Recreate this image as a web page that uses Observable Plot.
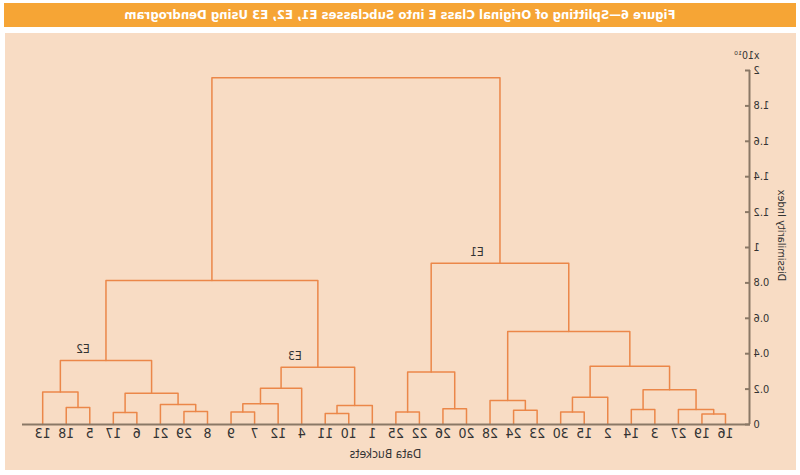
<!DOCTYPE html>
<html>
<head>
<meta charset="utf-8">
<script src="https://cdn.jsdelivr.net/npm/d3@7"></script>
<script src="https://cdn.jsdelivr.net/npm/@observablehq/plot@0.6"></script>
<style>
  html, body { margin: 0; padding: 0; background: #ffffff; }
  #wrap { position: relative; width: 800px; height: 475px; transform: scaleX(-1); overflow: hidden;
          font-family: "Liberation Sans Narrow", "DejaVu Sans Condensed", "Roboto", sans-serif; }
  #title { position: absolute; left: 4px; top: 3px; width: 792px; height: 24px; background: #f6a535;
           color: #ffffff; font-weight: bold; font-size: 13px; line-height: 24px; text-align: center; }
  #panel { position: absolute; left: 4px; top: 33px; width: 791px; height: 437px; background: #f8dcc4; }
  #chart { position: absolute; left: 0; top: 0; }
  #chart svg { background: transparent !important; }
</style>
</head>
<body>
<div id="wrap">
  <div id="title">Figure 6—Splitting of Original Class E into Subclasses E1, E2, E3 Using Dendrogram</div>
  <div id="panel"></div>
  <div id="chart"></div>
</div>
<script>
// Leaf order (left to right)
const leaves = ["16","19","27","3","14","2","15","30","23","24","28","20","26","22","25",
                "1","10","11","4","12","7","9","8","29","21","6","17","5","18","13"];
// Linkage: [left child, right child, dissimilarity (x10^10)]; merge i is referred to as "m" + i
const merges = [
  ["16","19",0.060], ["m0","27",0.085], ["3","14",0.085], ["m1","m2",0.196],
  ["15","30",0.070], ["2","m4",0.154], ["m3","m5",0.329], ["23","24",0.081],
  ["m7","28",0.136], ["m6","m8",0.525], ["20","26",0.089], ["22","25",0.070],
  ["m10","m11",0.296], ["m9","m12",0.911], ["10","11",0.062], ["1","m14",0.107],
  ["7","9",0.070], ["12","m16",0.117], ["4","m17",0.205], ["m15","m18",0.324],
  ["8","29",0.073], ["m20","21",0.113], ["6","17",0.068], ["m21","m22",0.177],
  ["5","18",0.096], ["m24","13",0.183], ["m23","m25",0.362], ["m19","m26",0.814],
  ["m13","m27",1.959]
];
const clusterNames = ["E1","E2","E3"];
const clusterNodes = ["m13","m26","m19"];
const yTicks = [0,0.2,0.4,0.6,0.8,1,1.2,1.4,1.6,1.8,2];
const yTickLabels = ["0","0.2","0.4","0.6","0.8","1","1.2","1.4","1.6","1.8","2"];
const xTitle = "Data Buckets";
const yTitle = "Dissimilarity Index";
const yUnit = "x10¹⁰";

// Build dendrogram link paths
const pos = {};
leaves.forEach((l, i) => pos[l] = {x: i, h: 0});
const segs = [];
merges.forEach(([a, b, h], i) => {
  const A = pos[a], B = pos[b];
  segs.push({id: i, x: A.x, y: A.h}, {id: i, x: A.x, y: h}, {id: i, x: B.x, y: h}, {id: i, x: B.x, y: B.h});
  pos["m" + i] = {x: (A.x + B.x) / 2, h};
});
const labels = clusterNames.map((n, i) => ({name: n, x: pos[clusterNodes[i]].x, y: pos[clusterNodes[i]].h}));

const xDomain = [-1.02, 29.9];
const axisColor = "#8a7866";
const linkColor = "#eb8749";
const textColor = "#333333";

const chart = Plot.plot({
  width: 800,
  height: 475,
  marginLeft: 50,
  marginRight: 22,
  marginTop: 70,
  marginBottom: 51,
  style: {background: "transparent", fontFamily: '"Liberation Sans Narrow", "DejaVu Sans Condensed", sans-serif', color: textColor},
  x: {domain: xDomain},
  y: {domain: [0, 2]},
  marks: [
    Plot.line(segs, {x: "x", y: "y", z: "id", stroke: linkColor, strokeWidth: 1.5}),
    Plot.ruleY([0], {stroke: axisColor, strokeWidth: 2}),
    Plot.ruleX([xDomain[0]], {y1: 0, y2: 2, stroke: axisColor, strokeWidth: 2}),
    Plot.ruleY(yTicks, {y: d => d, x1: xDomain[0], x2: xDomain[0], insetRight: -5, stroke: axisColor, strokeWidth: 2}),
    Plot.axisY({ticks: yTicks, tickFormat: (d, i) => yTickLabels[yTicks.indexOf(d)], tickSize: 0, tickPadding: 4,
                fontSize: 11, label: null, fill: textColor}),
    Plot.axisX({ticks: d3.range(leaves.length), tickFormat: i => leaves[i], tickSize: 0, tickPadding: 4,
                fontSize: 14, label: null, fill: textColor}),
    Plot.text([xTitle], {frameAnchor: "bottom", dy: 33, fontSize: 12, fill: textColor}),
    Plot.text([yTitle], {frameAnchor: "left", textAnchor: "middle", rotate: -90, dx: -32, dy: -12, fontSize: 11, fill: textColor}),
    Plot.text([yUnit], {frameAnchor: "top-left", dx: -10, dy: -19, textAnchor: "start", fontSize: 10.5, fill: textColor}),
    Plot.text(labels, {x: "x", y: "y", text: "name", dx: 23, dy: -11, fontSize: 12, fill: textColor})
  ]
});
document.getElementById("chart").appendChild(chart);
</script>
</body>
</html>
